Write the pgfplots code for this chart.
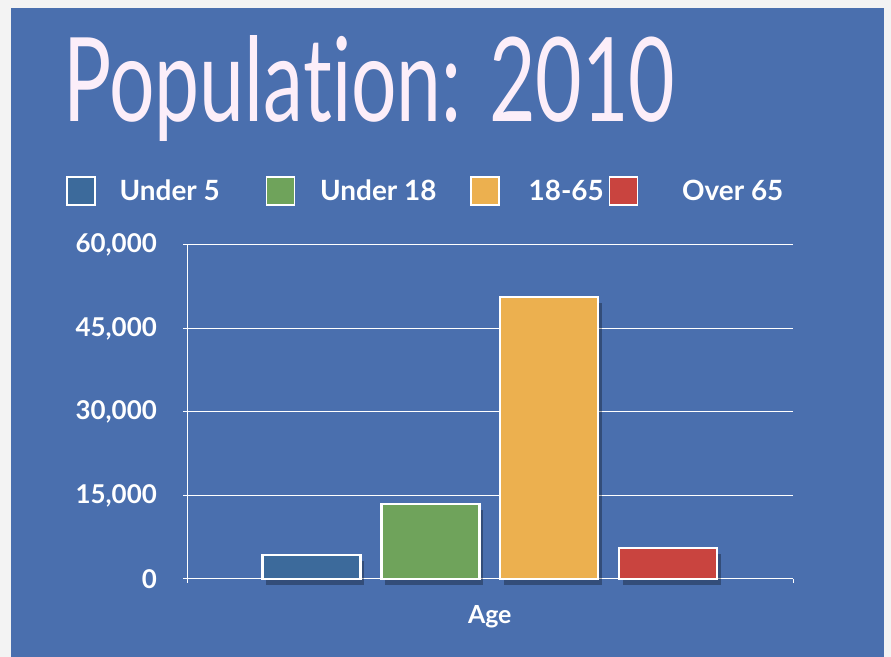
\documentclass[border=0pt]{standalone}
\usepackage{pgfplots}
\pgfplotsset{compat=1.18}
\usepackage{fontspec}
\setmainfont{Lato}[Ligatures=NoCommon]
\definecolor{bgblue}{HTML}{4A6FAE}
\definecolor{outerbg}{HTML}{F3F3F3}
\definecolor{cA}{HTML}{3C6A9B}
\definecolor{cB}{HTML}{6FA35B}
\definecolor{cC}{HTML}{ECB04F}
\definecolor{cD}{HTML}{C9443F}
\definecolor{titlecol}{HTML}{FCEEF9}
\begin{document}
\begin{tikzpicture}[x=1bp,y=1bp]
\useasboundingbox (0,0) rectangle (891,657);
\fill[outerbg] (0,0) rectangle (891,657);
\fill[bgblue] (11,0) rectangle (884,649);
\node[anchor=base west, inner sep=0pt, text=titlecol] at (63,535)
  {\resizebox{612bp}{86bp}{\fontsize{100}{100}\selectfont Population: 2010}};
\begin{axis}[
  at={(187bp,78bp)}, anchor=south west,
  scale only axis, width=606bp, height=334bp,
  xmin=-0.046, xmax=5.05, ymin=0, ymax=60000,
  clip=false,
  axis x line=bottom, axis y line=left,
  axis line style={-, white, line width=1bp},
  ytick={0,15000,30000,45000,60000},
  scaled y ticks=false,
  /pgf/number format/1000 sep={,},
  /pgf/number format/assume math mode=true,
  ymajorgrids, grid style={white, line width=1bp},
  major tick style={white, line width=1bp},
  tick align=outside, major tick length=4bp,
  yticklabel style={font=\fontsize{26}{26}\selectfont\bfseries, text=white, inner sep=0pt, xshift=-26bp},
  xtick={-0.046,5.05}, xticklabels={},
  extra x ticks={2.5}, extra x tick labels={Age},
  extra x tick style={major tick length=0pt, xticklabel style={font=\fontsize{25}{25}\selectfont\bfseries, text=white, inner sep=0pt, yshift=-26bp}},
  ybar, bar width=0.824,
  barstyle/.style={bar shift=0pt, draw=white, line width=2.5bp,
     preaction={draw=none, fill=black, opacity=0.3, transform canvas={xshift=4bp, yshift=-6bp}}},
  legend columns=4,
  legend image code/.code={\draw[#1, draw=white, line width=1.5bp] (0bp,-14bp) rectangle (28bp,14bp);},
  legend style={draw=none, fill=none, at={(axis description cs:-0.1997,1.1617)}, anchor=west,
     font=\fontsize{28}{28}\selectfont\bfseries, text=white, inner sep=0pt, nodes={inner sep=0pt},
     /tikz/every even column/.append style={column sep=0pt}},
]
\addlegendimage{fill=cA}
\addlegendentry{\makebox[170bp][l]{\hspace*{24bp}Under 5}}
\addlegendimage{fill=cB}
\addlegendentry{\makebox[175bp][l]{\hspace*{25bp}Under 18}}
\addlegendimage{fill=cC}
\addlegendentry{\makebox[109bp][l]{\hspace*{29bp}18-65}}
\addlegendimage{fill=cD}
\addlegendentry{\hspace*{44bp}Over 65}
\addplot[barstyle, fill=cA, forget plot] coordinates {(1,4300)};
\addplot[barstyle, fill=cB, forget plot] coordinates {(2,13500)};
\addplot[barstyle, fill=cC, forget plot] coordinates {(3,50700)};
\addplot[barstyle, fill=cD, forget plot] coordinates {(4,5600)};
\end{axis}
\end{tikzpicture}
\end{document}
